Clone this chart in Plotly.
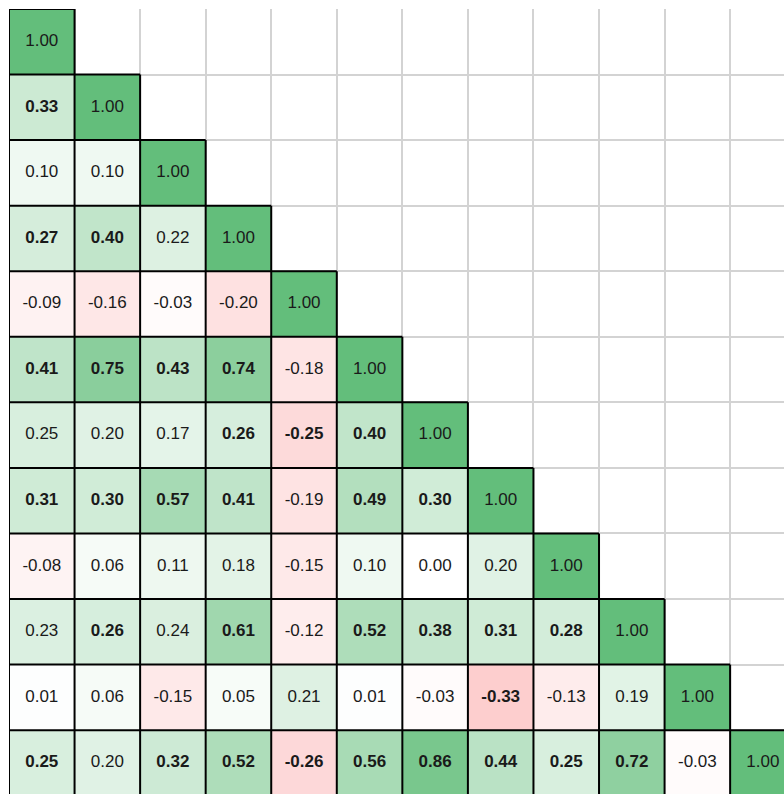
import plotly.graph_objects as go

# Lower-triangular correlation matrix (row by row)
values = [
    [1.00],
    [0.33, 1.00],
    [0.10, 0.10, 1.00],
    [0.27, 0.40, 0.22, 1.00],
    [-0.09, -0.16, -0.03, -0.20, 1.00],
    [0.41, 0.75, 0.43, 0.74, -0.18, 1.00],
    [0.25, 0.20, 0.17, 0.26, -0.25, 0.40, 1.00],
    [0.31, 0.30, 0.57, 0.41, -0.19, 0.49, 0.30, 1.00],
    [-0.08, 0.06, 0.11, 0.18, -0.15, 0.10, 0.00, 0.20, 1.00],
    [0.23, 0.26, 0.24, 0.61, -0.12, 0.52, 0.38, 0.31, 0.28, 1.00],
    [0.01, 0.06, -0.15, 0.05, 0.21, 0.01, -0.03, -0.33, -0.13, 0.19, 1.00],
    [0.25, 0.20, 0.32, 0.52, -0.26, 0.56, 0.86, 0.44, 0.25, 0.72, -0.03, 1.00],
]

# Significance flags (shown in bold)
significant = [
    [0],
    [1, 0],
    [0, 0, 0],
    [1, 1, 0, 0],
    [0, 0, 0, 0, 0],
    [1, 1, 1, 1, 0, 0],
    [0, 0, 0, 1, 1, 1, 0],
    [1, 1, 1, 1, 0, 1, 1, 0],
    [0, 0, 0, 0, 0, 0, 0, 0, 0],
    [0, 1, 0, 1, 0, 1, 1, 1, 1, 0],
    [0, 0, 0, 0, 0, 0, 0, 1, 0, 0, 0],
    [1, 0, 1, 1, 1, 1, 1, 1, 1, 1, 0, 0],
]

n = len(values)
idx = list(range(n))

z = [[values[i][j] if j <= i else None for j in range(n)] for i in range(n)]

tx, ty, tt = [], [], []
for i in range(n):
    for j in range(i + 1):
        v = values[i][j]
        s = f"{v:.2f}"
        if significant[i][j]:
            s = f"<b>{s}</b>"
        tx.append(j)
        ty.append(i)
        tt.append(s)

fig = go.Figure()
fig.add_trace(go.Heatmap(
    z=z, x=idx, y=idx,
    zmin=-1, zmax=1,
    colorscale=[[0, "#F8696B"], [0.5, "#FFFFFF"], [1, "#63BE7B"]],
    showscale=False, hoverinfo="skip",
))
fig.add_trace(go.Scatter(
    x=tx, y=ty, text=tt, mode="text",
    textfont=dict(family="Liberation Sans, Arial, sans-serif", size=17, color="#1a1a1a"),
    hoverinfo="skip", showlegend=False, cliponaxis=True,
))

# black borders around lower-triangle cells
shapes = []
for k in range(n + 1):
    xend = min(k, n - 1) + 0.5
    shapes.append(dict(type="line", xref="x", yref="y", x0=-0.5, x1=xend,
                       y0=k - 0.5, y1=k - 0.5, line=dict(color="black", width=2)))
    ystart = max(k - 1.5, -0.5)
    shapes.append(dict(type="line", xref="x", yref="y", x0=k - 0.5, x1=k - 0.5,
                       y0=ystart, y1=n - 0.5, line=dict(color="black", width=2)))

W, H = 784, 794
ML, MT = 8.5, 8.5
CELL = 65.6
grid_vals = [k - 0.5 for k in range(n + 1)]
fig.update_layout(
    width=W, height=H, autosize=False,
    margin=dict(l=ML, r=0, t=MT, b=0, pad=0),
    paper_bgcolor="white", plot_bgcolor="white",
    shapes=shapes,
    xaxis=dict(range=[-0.5, -0.5 + (W - ML) / CELL], tickvals=grid_vals, showticklabels=False,
               ticks="", showgrid=True, gridcolor="#d3d3d3", gridwidth=2,
               zeroline=False, showline=False, fixedrange=True),
    yaxis=dict(range=[-0.5 + (H - MT) / CELL, -0.5], tickvals=grid_vals, showticklabels=False,
               ticks="", showgrid=True, gridcolor="#d3d3d3", gridwidth=2,
               zeroline=False, showline=False, fixedrange=True),
)

fig.write_html(
    "out.html",
    config={"displayModeBar": False},
    post_script="document.body.style.margin='0px';",
)
